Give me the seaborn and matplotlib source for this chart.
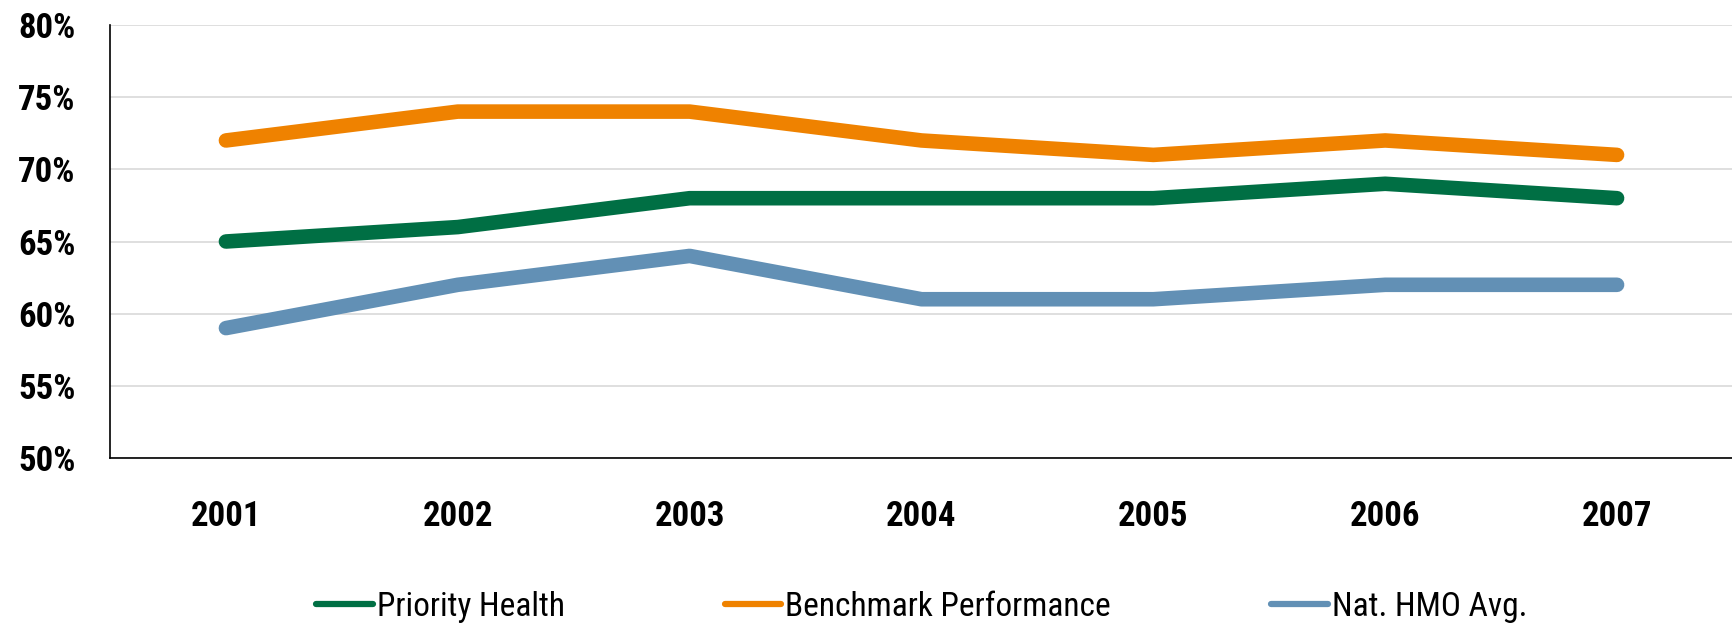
import matplotlib
matplotlib.use("Agg")
import matplotlib.pyplot as plt
from matplotlib import font_manager
from matplotlib.lines import Line2D
from matplotlib.ticker import FuncFormatter
import seaborn as sns
import pandas as pd

years = ["2001", "2002", "2003", "2004", "2005", "2006", "2007"]
priority_health = [65, 66, 68, 68, 68, 69, 68]
benchmark = [72, 74, 74, 72, 71, 72, 71]
nat_hmo = [59, 62, 64, 61, 61, 62, 62]
series_names = ["Priority Health", "Benchmark Performance", "Nat. HMO Avg."]
colors = ["#006F44", "#EF8200", "#6290B5"]
y_ticks = [50, 55, 60, 65, 70, 75, 80]

sns.set_theme(style="white")
names = {f.name for f in font_manager.fontManager.ttflist}
fam = "DejaVu Sans"
for cand in ["Liberation Sans Narrow", "Arial Narrow", "Nimbus Sans Narrow",
             "Roboto Condensed", "Archivo Narrow", "PT Sans Narrow", "Liberation Sans"]:
    if cand in names:
        fam = cand
        break
plt.rcParams["font.family"] = [fam, "DejaVu Sans"]
plt.rcParams["text.color"] = "black"
plt.rcParams["xtick.color"] = "black"
plt.rcParams["ytick.color"] = "black"

df = pd.DataFrame({
    "Year": years * 3,
    "Value": priority_health + benchmark + nat_hmo,
    "Series": [series_names[0]] * 7 + [series_names[1]] * 7 + [series_names[2]] * 7,
})

fig = plt.figure(figsize=(17.33, 6.23), dpi=100)
ax = fig.add_axes([110 / 1733, 1 - 458 / 623, 1 - 110 / 1733, (458 - 25) / 623])

sns.lineplot(data=df, x="Year", y="Value", hue="Series", palette=colors,
             linewidth=10.5, sort=False, ax=ax, legend=False,
             solid_capstyle="round", solid_joinstyle="round")

ax.set_xlim(-0.5, 6.5)
ax.set_ylim(50, 80)
ax.set_yticks(y_ticks)
ax.yaxis.set_major_formatter(FuncFormatter(lambda v, p: f"{v:.0f}%"))
ax.grid(axis="y", color="#D9D9D9", linewidth=1.2)
ax.set_axisbelow(True)
ax.set_xlabel("")
ax.set_ylabel("")
for s in ["top", "right"]:
    ax.spines[s].set_visible(False)
for s in ["left", "bottom"]:
    ax.spines[s].set_color("black")
    ax.spines[s].set_linewidth(1.2)
ax.tick_params(axis="y", length=0, pad=25, labelsize=25, labelcolor="black")
ax.tick_params(axis="x", length=0, pad=30, labelsize=25, labelcolor="black")
for lab in ax.get_xticklabels() + ax.get_yticklabels():
    lab.set_fontweight("bold")

handles = [Line2D([0], [0], color=c, linewidth=4.5, solid_capstyle="round") for c in colors]
fig.legend(handles, series_names, loc="center", ncol=3,
           bbox_to_anchor=((110 + 1733) / 2 / 1733, 1 - 607 / 623),
           frameon=False, fontsize=24, handlelength=1.7, handletextpad=0.12,
           columnspacing=4.8, labelcolor="black")

fig.savefig("out.png", dpi=100)
